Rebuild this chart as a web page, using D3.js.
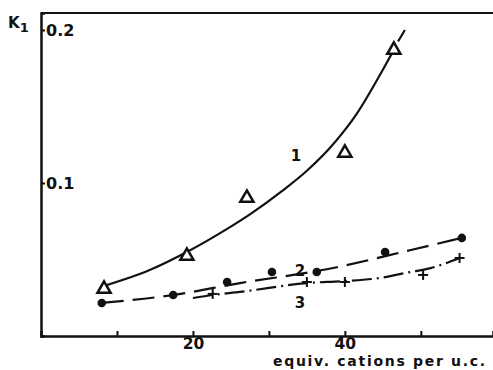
<!DOCTYPE html>
<html>
<head>
<meta charset="utf-8">
<script src="https://cdn.jsdelivr.net/npm/d3@7"></script>
<style>
body{margin:0;background:#fff;}
text{font-family:"DejaVu Sans",sans-serif;font-weight:bold;fill:#111;}
</style>
</head>
<body>
<script>
// measured points, x = equiv. cations per u.c., y = K1
var tri_x=[8.3,19.2,27.1,40.0,46.45];
var tri_y=[0.0314,0.0529,0.0908,0.1203,0.1876];
var dot_x=[8.0,17.4,24.5,30.4,36.3,45.3,55.4];
var dot_y=[0.0216,0.0268,0.0353,0.0418,0.0418,0.0549,0.0641];
var plus_x=[22.6,35.0,40.0,50.3,55.1];
var plus_y=[0.0275,0.0353,0.0353,0.0399,0.0510];

// hand drawn fitted curves
var fit1_x=[8.3,14.3,19.2,24.5,27.5,31.8,35.0,38.4,41.6,45.0,46.45];
var fit1_y=[0.0327,0.0431,0.0549,0.0700,0.0795,0.0950,0.1080,0.1250,0.1455,0.1740,0.1870];
var fit1_ext_x=[47.0,47.9];
var fit1_ext_y=[0.1925,0.2000];
var fit2_x=[8.0,17.4,26.2,37.8,48.7,55.4];
var fit2_y=[0.0216,0.0268,0.0346,0.0438,0.0562,0.0641];
var fit3_x=[20.0,22.6,26.2,35.0,40.0,44.6,48.6,51.3,55.1];
var fit3_y=[0.0248,0.0268,0.0288,0.0346,0.0359,0.0379,0.0418,0.0444,0.0510];

var x_ticks=[10,20,30,40,50];
var x_labels=[20,40];
var y_ticks=[0.1,0.2];

var width=493,height=370;

var svg=d3.select("body").append("svg")
	.attr("width",width)
	.attr("height",height);

var x=d3.scaleLinear().domain([0,59.5]).range([41,493]);
var y=d3.scaleLinear().domain([0,0.2111]).range([336,13]);

function zip(a,b){
	return a.map(function(v,i){return [v,b[i]];});
}

// frame: top line, bottom axis, left axis
svg.append("line")
	.attr("x1",x(0)).attr("x2",x(59.5))
	.attr("y1",y(0.2111)).attr("y2",y(0.2111))
	.attr("stroke","#111").attr("stroke-width",2);

var xAxis=d3.axisBottom(x)
	.tickValues(x_ticks)
	.tickSize(-5)
	.tickPadding(2)
	.tickFormat(function(d){return x_labels.indexOf(d)>=0?d:"";});

var gx=svg.append("g")
	.attr("transform","translate(0,"+y(0)+")")
	.call(xAxis);
gx.select(".domain").attr("stroke","#111").attr("stroke-width",2.5);
gx.selectAll(".tick line").attr("stroke","#111").attr("stroke-width",2);
gx.selectAll(".tick text")
	.attr("font-size",15.5)
	.attr("font-family","DejaVu Sans")
	.attr("font-weight","bold")
	.attr("fill","#111");

var yAxis=d3.axisRight(y)
	.tickValues(y_ticks)
	.tickSize(4)
	.tickPadding(1)
	.tickFormat(d3.format(".1f"));

var gy=svg.append("g")
	.attr("transform","translate("+x(0)+",0)")
	.call(yAxis);
gy.select(".domain").attr("stroke","#111").attr("stroke-width",2.5);
gy.selectAll(".tick line").attr("stroke","#111").attr("stroke-width",2);
gy.selectAll(".tick text")
	.attr("font-size",16)
	.attr("font-family","DejaVu Sans")
	.attr("font-weight","bold")
	.attr("fill","#111");

// axis titles
var k=svg.append("text")
	.attr("x",8).attr("y",28)
	.attr("font-size",15);
k.append("tspan").text("K");
k.append("tspan").attr("font-size",13).attr("dy",4).text("1");

svg.append("text")
	.attr("x",273).attr("y",366)
	.attr("font-size",14)
	.attr("letter-spacing",1.7)
	.text("equiv. cations per u.c.");

// curves
var line=d3.line()
	.x(function(d){return x(d[0]);})
	.y(function(d){return y(d[1]);})
	.curve(d3.curveMonotoneX);

svg.append("path")
	.attr("d",line(zip(fit1_x,fit1_y)))
	.attr("fill","none").attr("stroke","#111").attr("stroke-width",2.2);
svg.append("path")
	.attr("d",line(zip(fit1_ext_x,fit1_ext_y)))
	.attr("fill","none").attr("stroke","#111").attr("stroke-width",2.2);

svg.append("path")
	.attr("d",line(zip(fit2_x,fit2_y)))
	.attr("fill","none").attr("stroke","#111").attr("stroke-width",2.2)
	.attr("stroke-dasharray","22,9");

svg.append("path")
	.attr("d",line(zip(fit3_x,fit3_y)))
	.attr("fill","none").attr("stroke","#111").attr("stroke-width",2.2)
	.attr("stroke-dasharray","20,5,2,5");

// markers
var tri=d3.symbol().type(d3.symbolTriangle).size(75);
svg.selectAll(".tri")
	.data(zip(tri_x,tri_y))
	.enter().append("path")
	.attr("class","tri")
	.attr("d",tri)
	.attr("transform",function(d){return "translate("+x(d[0])+","+(y(d[1])+1)+")";})
	.attr("fill","#fff").attr("stroke","#111").attr("stroke-width",2.5);

svg.selectAll(".dot")
	.data(zip(dot_x,dot_y))
	.enter().append("circle")
	.attr("class","dot")
	.attr("cx",function(d){return x(d[0]);})
	.attr("cy",function(d){return y(d[1]);})
	.attr("r",4.3)
	.attr("fill","#111");

svg.selectAll(".plus")
	.data(zip(plus_x,plus_y))
	.enter().append("g")
	.attr("class","plus")
	.attr("transform",function(d){return "translate("+x(d[0])+","+y(d[1])+")";})
	.each(function(){
		var g=d3.select(this);
		g.append("line").attr("x1",-5).attr("x2",5).attr("stroke","#111").attr("stroke-width",2);
		g.append("line").attr("y1",-5).attr("y2",5).attr("stroke","#111").attr("stroke-width",2);
	});

// curve numbers
var curve_labels=[["1",296,161],["2",300,276],["3",300,308]];
svg.selectAll(".num")
	.data(curve_labels)
	.enter().append("text")
	.attr("class","num")
	.attr("x",function(d){return d[1];})
	.attr("y",function(d){return d[2];})
	.attr("text-anchor","middle")
	.attr("font-size",15)
	.text(function(d){return d[0];});
</script>
</body>
</html>
